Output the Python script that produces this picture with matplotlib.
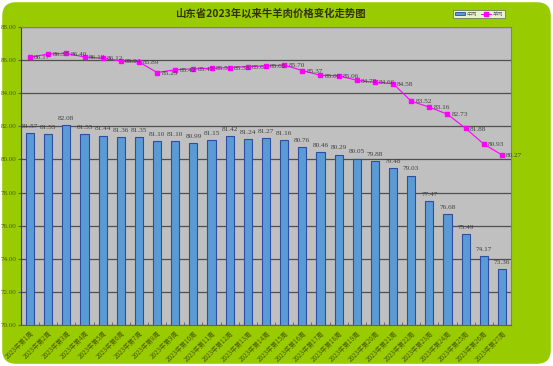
import matplotlib
matplotlib.use("Agg")
import matplotlib.pyplot as plt
from matplotlib.patches import FancyBboxPatch, Patch
from matplotlib.lines import Line2D
import numpy as np

plt.rcParams['font.family'] = ['Noto Sans CJK SC', 'DejaVu Sans']

weeks = [f"2023年第{i}周" for i in range(1, 28)]
beef = [81.57, 81.55, 82.08, 81.55, 81.44, 81.36, 81.35, 81.10, 81.10, 80.99,
        81.15, 81.42, 81.24, 81.27, 81.16, 80.76, 80.46, 80.29, 80.05, 79.88,
        79.48, 79.03, 77.47, 76.68, 75.49, 74.17, 73.36]
mutton = [86.17, 86.37, 86.40, 86.19, 86.12, 85.94, 85.89, 85.25, 85.42, 85.47,
          85.51, 85.55, 85.61, 85.65, 85.70, 85.37, 85.08, 85.06, 84.78, 84.66,
          84.58, 83.52, 83.16, 82.73, 81.88, 80.93, 80.27]
yticks = [70, 72, 74, 76, 78, 80, 82, 84, 86, 88]

NUMFONT = 'Liberation Serif'

W, H = 553, 366
fig = plt.figure(figsize=(W / 100, H / 100), dpi=100)
fig.patch.set_facecolor('white')
bg = FancyBboxPatch((0.004, 0.006), 0.992, 0.988, boxstyle="round,pad=0,rounding_size=0.025",
                    transform=fig.transFigure, facecolor='#99CC00', edgecolor='none',
                    mutation_aspect=W / H, zorder=-10)
fig.patches.append(bg)

ax = fig.add_axes([21 / W, 1 - 325 / H, (511 - 21) / W, (325 - 27) / H])
ax.set_facecolor('#C0C0C0')
x = np.arange(len(weeks))
ax.bar(x, beef, width=0.45, bottom=0, color='#5B9BD5', edgecolor='#2E4DA6', linewidth=0.8, zorder=3)
ax.plot(x, mutton, color='#FF00FF', linewidth=0.8, marker='s', markersize=3.2, zorder=4)

ax.set_ylim(70, 88)
ax.set_xlim(-0.5, len(weeks) - 0.5)
ax.set_yticks(yticks)
ax.set_yticklabels([f"{v:.2f}" for v in yticks], fontsize=5.0, color='#4a5a00', family=NUMFONT)
ax.yaxis.grid(True, color='#505050', linewidth=0.9, zorder=1)
ax.set_axisbelow(True)
ax.set_xticks(x)
ax.set_xticklabels(weeks, rotation=45, ha='right', rotation_mode='anchor', fontsize=4.6, color='#4a5a00')
ax.set_xticks(np.arange(-0.5, len(weeks), 1), minor=True)
ax.tick_params(axis='x', which='major', length=0, pad=3)
ax.tick_params(axis='x', which='minor', length=2, color='#606060', direction='in')
ax.tick_params(axis='y', length=2, color='#606060', pad=1)
for s in ['top', 'right']:
    ax.spines[s].set_color('#808080')
    ax.spines[s].set_linewidth(0.8)
ax.spines['left'].set_color('#404040')
ax.spines['bottom'].set_color('#606060')

for xi, v in zip(x, beef):
    ax.annotate(f"{v:.2f}", (xi, v), xytext=(0, 3), textcoords='offset points',
                ha='center', va='bottom', fontsize=5.2, color='#404040', family=NUMFONT, zorder=5)
for xi, v in zip(x, mutton):
    ax.annotate(f"{v:.2f}", (xi, v), xytext=(3, -0.5), textcoords='offset points',
                ha='left', va='center', fontsize=5.2, color='#404040', family=NUMFONT, zorder=5)

fig.text(270 / W, 1 - 13 / H, "山东省2023年以来牛羊肉价格变化走势图", ha='center', va='center',
         fontsize=7.5, fontweight='bold', color='#333300')

handles = [Patch(facecolor='#5B9BD5', edgecolor='#2E4DA6', linewidth=0.6),
           Line2D([], [], color='#FF00FF', marker='s', markersize=2.5, linewidth=0.7)]
leg = fig.legend(handles, ['牛肉', '羊肉'], loc='center', bbox_to_anchor=(479 / W, 1 - 14 / H),
                 ncol=2, fontsize=3.8, frameon=True, fancybox=False, handlelength=2.0,
                 handleheight=0.6, borderpad=0.3, columnspacing=0.6, handletextpad=0.3, labelcolor='#606060')
leg.get_frame().set_edgecolor('#606060')
leg.get_frame().set_linewidth(0.6)

fig.savefig("out.png", dpi=100)
